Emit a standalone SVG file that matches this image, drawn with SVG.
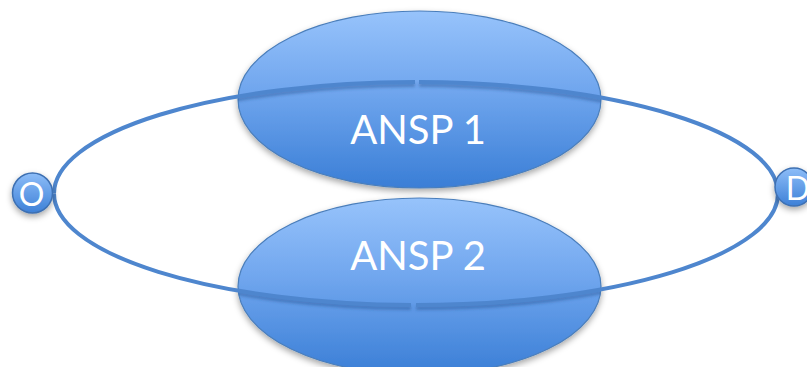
<svg xmlns="http://www.w3.org/2000/svg" width="807" height="367" viewBox="0 0 807 367">
  <defs>
    <linearGradient id="gBlue" x1="0" y1="0" x2="0" y2="1">
      <stop offset="0" stop-color="#97C3FB"/>
      <stop offset="0.45" stop-color="#70A6EE"/>
      <stop offset="1" stop-color="#3A7ED6"/>
    </linearGradient>
    <linearGradient id="gCircle" x1="0" y1="0" x2="0" y2="1">
      <stop offset="0" stop-color="#8DBDF8"/>
      <stop offset="1" stop-color="#3D80D7"/>
    </linearGradient>
    <filter id="shadow" x="-20%" y="-20%" width="140%" height="150%">
      <feDropShadow dx="0" dy="3" stdDeviation="3" flood-color="#000" flood-opacity="0.35"/>
    </filter>
    <filter id="blur" x="-5%" y="-50%" width="110%" height="200%">
      <feGaussianBlur stdDeviation="1.8"/>
    </filter>
    <clipPath id="ansps">
      <ellipse cx="419.5" cy="99.5" rx="181.5" ry="88.5"/>
      <ellipse cx="419.5" cy="286.5" rx="181.5" ry="88.5"/>
    </clipPath>
    <style>
      .ansp { fill: url(#gBlue); stroke: #4A7EBB; stroke-width: 1.2; filter: url(#shadow); }
      .end { fill: url(#gCircle); stroke: #3E70B2; stroke-width: 1.5; filter: url(#shadow); }
      .lbl { font-family: "Lato", "Open Sans", "Liberation Sans", sans-serif; fill: #FFFFFF; text-anchor: middle; }
      .big { font-size: 40px; }
      .small { font-size: 32px; }
      .ring { fill: none; stroke: #4E86CE; stroke-width: 4; }
      .ringShadow { fill: none; stroke: #1F4F8F; stroke-opacity: 0.45; stroke-width: 4; filter: url(#blur); }
    </style>
  </defs>

  <g id="ansp1">
    <ellipse class="ansp" cx="419.5" cy="99.5" rx="181.5" ry="88.5"/>
    <text class="lbl big" x="418" y="144">ANSP 1</text>
  </g>

  <g id="ansp2">
    <ellipse class="ansp" cx="419.5" cy="286.5" rx="181.5" ry="88.5"/>
    <text class="lbl big" x="418" y="270">ANSP 2</text>
  </g>

  <g id="connectors">
    <g clip-path="url(#ansps)">
      <g transform="translate(0,3)">
        <path class="ringShadow" d="M54,193.5 A362,111.5 0 0 1 415,82"/>
        <path class="ringShadow" d="M419,82 A362,111.5 0 0 1 778,193.5"/>
        <path class="ringShadow" d="M778,193.5 A362,111.5 0 0 1 416,305"/>
        <path class="ringShadow" d="M411,305 A362,111.5 0 0 1 54,193.5"/>
      </g>
    </g>
    <path class="ring" d="M54,193.5 A362,111.5 0 0 1 415,82"/>
    <path class="ring" d="M419,82 A362,111.5 0 0 1 778,193.5"/>
    <path class="ring" d="M778,193.5 A362,111.5 0 0 1 416,305"/>
    <path class="ring" d="M411,305 A362,111.5 0 0 1 54,193.5"/>
  </g>

  <g id="origin">
    <circle class="end" cx="32.5" cy="193" r="20"/>
    <text class="lbl small" x="31.5" y="205.5">O</text>
  </g>

  <g id="destination">
    <circle class="end" cx="794" cy="187" r="19"/>
    <text class="lbl small" x="798" y="200">D</text>
  </g>
</svg>
